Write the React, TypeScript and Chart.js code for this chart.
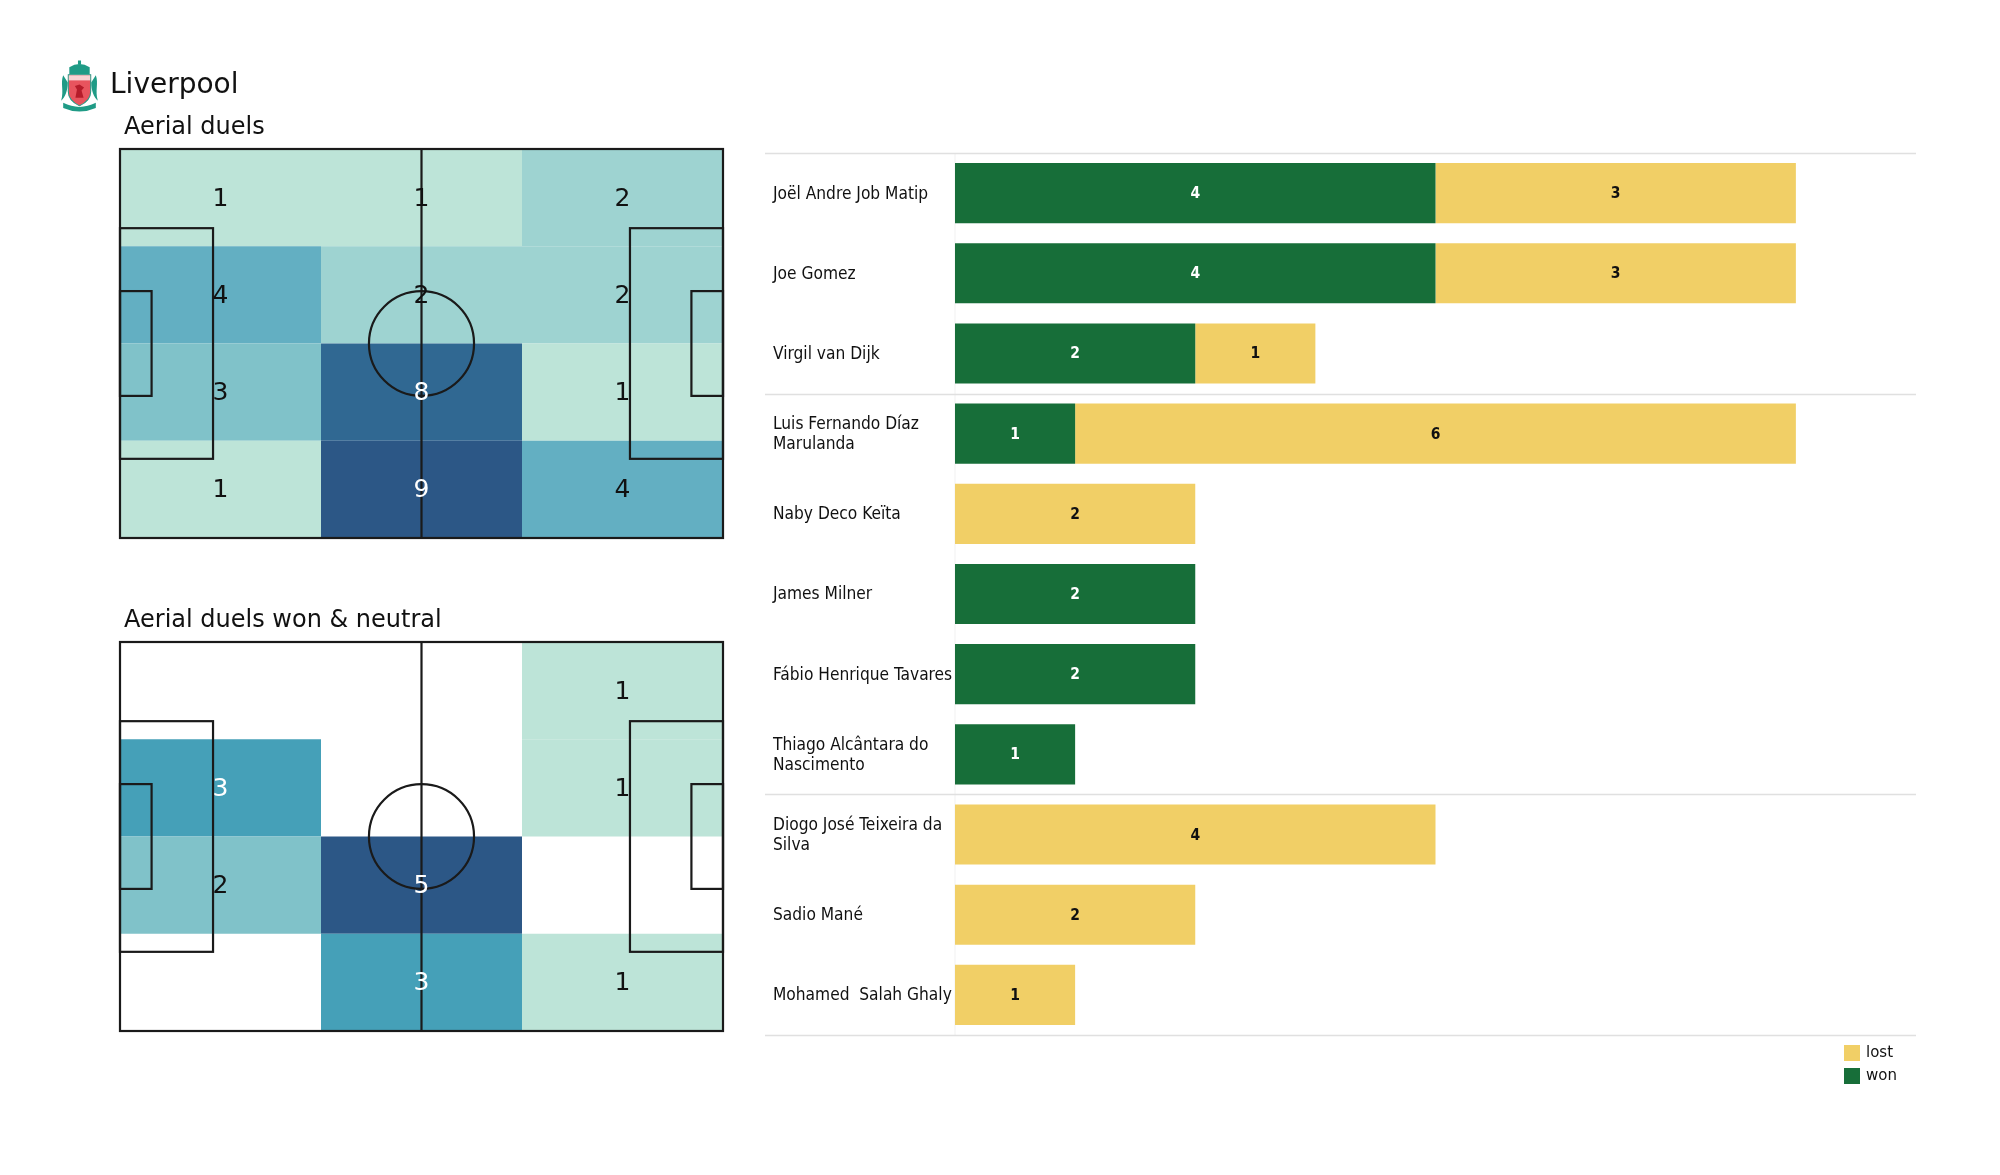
import React, { useEffect, useRef } from "react";
import { Chart, registerables } from "chart.js";

Chart.register(...registerables);

// ---------- DATA ----------
const teamName = "Liverpool";
const pitchLength = 105;
const pitchWidth = 68;

// heatmap zones: rows top -> bottom, columns left -> right
const zoneRowCount = 4;
const zoneColCount = 3;
const aerialDuels = [
  [1, 1, 2],
  [4, 2, 2],
  [3, 8, 1],
  [1, 9, 4],
];
const aerialWonNeutral = [
  [0, 0, 1],
  [3, 0, 1],
  [2, 5, 0],
  [0, 3, 1],
];

const players: (string | string[])[] = [
  "Joël Andre Job Matip",
  "Joe Gomez",
  "Virgil van Dijk",
  ["Luis Fernando Díaz", "Marulanda"],
  "Naby Deco Keïta",
  "James Milner",
  "Fábio Henrique Tavares",
  ["Thiago Alcântara do", "Nascimento"],
  ["Diogo José Teixeira da", "Silva"],
  "Sadio Mané",
  "Mohamed  Salah Ghaly",
];
const wonValues = [4, 4, 2, 1, 0, 2, 2, 1, 0, 0, 0];
const lostValues = [3, 3, 1, 6, 2, 0, 0, 0, 4, 2, 1];
const groupSizes = [3, 5, 3];
const xAxisMax = 8;

// ---------- STYLES ----------
const GREEN = "#176e39";
const YELLOW = "#f1cf66";
const cmapStops: [number, string][] = [
  [0, "#bde4d8"],
  [0.125, "#9ed3d1"],
  [0.25, "#80c2c9"],
  [0.375, "#63afc2"],
  [0.5, "#45a0b8"],
  [0.875, "#306892"],
  [1, "#2c5786"],
];

function hexToRgb(h: string) {
  const n = parseInt(h.slice(1), 16);
  return [(n >> 16) & 255, (n >> 8) & 255, n & 255];
}
function cmap(t: number) {
  t = Math.max(0, Math.min(1, t));
  for (let i = 1; i < cmapStops.length; i++) {
    const [t1, c1] = cmapStops[i];
    const [t0, c0] = cmapStops[i - 1];
    if (t <= t1) {
      const f = (t - t0) / (t1 - t0 || 1);
      const a = hexToRgb(c0);
      const b = hexToRgb(c1);
      const c = a.map((v, k) => Math.round(v + (b[k] - v) * f));
      return `rgb(${c[0]},${c[1]},${c[2]})`;
    }
  }
  return cmapStops[cmapStops.length - 1][1];
}

const SANS = '"DejaVu Sans", "Liberation Sans", sans-serif';
const COND = '"DejaVu Sans Condensed", "DejaVu Sans", sans-serif';

function makePitchPlugin(title: string, header?: string) {
  return {
    id: "pitchHeat",
    beforeDatasetsDraw(chart: any) {
      const { ctx, chartArea, scales } = chart;
      const xs = scales.x;
      const ys = scales.y;
      const px = (m: number) => xs.getPixelForValue(m);
      const py = (m: number) => ys.getPixelForValue(m);
      const pts = chart.data.datasets[0].data as { x: number; y: number; v: number }[];
      const nz = pts.map((p) => p.v).filter((v) => v > 0);
      const vmin = Math.min(...nz);
      const vmax = Math.max(...nz);
      const cw = pitchLength / zoneColCount;
      const rh = pitchWidth / zoneRowCount;
      ctx.save();
      // titles
      ctx.fillStyle = "#111";
      ctx.textAlign = "left";
      ctx.textBaseline = "alphabetic";
      if (header) {
        ctx.font = `28px ${SANS}`;
        ctx.fillText(header, chartArea.left - 10, chartArea.top - 56);
      }
      ctx.font = `24px ${SANS}`;
      ctx.fillText(title, chartArea.left + 4, chartArea.top - 15);
      // cells
      pts.forEach((p) => {
        if (p.v <= 0) return;
        const t = (p.v - vmin) / (vmax - vmin || 1);
        ctx.fillStyle = cmap(t);
        const x0 = px(p.x - cw / 2);
        const x1 = px(p.x + cw / 2);
        const y0 = py(p.y - rh / 2);
        const y1 = py(p.y + rh / 2);
        ctx.fillRect(x0, Math.min(y0, y1), x1 - x0, Math.abs(y1 - y0));
      });
      // pitch lines
      ctx.strokeStyle = "#1a1a1a";
      ctx.lineWidth = 2.2;
      const rect = (a: number, b: number, c: number, d: number) => {
        const X0 = px(a), X1 = px(c), Y0 = py(b), Y1 = py(d);
        ctx.strokeRect(X0, Math.min(Y0, Y1), X1 - X0, Math.abs(Y1 - Y0));
      };
      rect(0, 0, pitchLength, pitchWidth);
      ctx.beginPath();
      ctx.moveTo(px(pitchLength / 2), py(0));
      ctx.lineTo(px(pitchLength / 2), py(pitchWidth));
      ctx.stroke();
      const mid = pitchWidth / 2;
      rect(0, mid - 20.16, 16.2, mid + 20.16);
      rect(pitchLength - 16.2, mid - 20.16, pitchLength, mid + 20.16);
      rect(0, mid - 9.16, 5.5, mid + 9.16);
      rect(pitchLength - 5.5, mid - 9.16, pitchLength, mid + 9.16);
      ctx.beginPath();
      ctx.ellipse(
        px(pitchLength / 2),
        py(mid),
        Math.abs(px(9.15) - px(0)),
        Math.abs(py(9.15) - py(0)),
        0,
        0,
        Math.PI * 2
      );
      ctx.stroke();
      // numbers
      ctx.font = `25px ${SANS}`;
      ctx.textAlign = "center";
      ctx.textBaseline = "middle";
      pts.forEach((p) => {
        if (p.v <= 0) return;
        const t = (p.v - vmin) / (vmax - vmin || 1);
        ctx.fillStyle = t > 0.45 ? "#ffffff" : "#111111";
        ctx.fillText(String(p.v), px(p.x), py(p.y) + 1.5);
      });
      ctx.restore();
    },
  };
}

function PitchHeatmap(props: {
  values: number[][];
  title: string;
  header?: string;
  top: number;
  height: number;
  padTop: number;
  padBottom: number;
}) {
  const ref = useRef<HTMLCanvasElement>(null);
  useEffect(() => {
    const cw = pitchLength / zoneColCount;
    const rh = pitchWidth / zoneRowCount;
    const data: { x: number; y: number; v: number }[] = [];
    props.values.forEach((row, r) =>
      row.forEach((v, c) => data.push({ x: cw * (c + 0.5), y: rh * (r + 0.5), v }))
    );
    const chart = new Chart(ref.current!, {
      type: "scatter",
      data: { datasets: [{ data, pointRadius: 0, pointHoverRadius: 0 }] as any },
      options: {
        animation: false,
        responsive: false,
        events: [],
        layout: { padding: { left: 120, right: 17, top: props.padTop, bottom: props.padBottom } },
        scales: {
          x: { type: "linear", min: 0, max: pitchLength, display: false },
          y: { type: "linear", min: 0, max: pitchWidth, reverse: true, display: false },
        },
        plugins: { legend: { display: false }, tooltip: { enabled: false } },
      },
      plugins: [makePitchPlugin(props.title, props.header)],
    });
    return () => chart.destroy();
  }, []);
  return (
    <canvas
      ref={ref}
      width={740}
      height={props.height}
      style={{ position: "absolute", left: 0, top: props.top, width: 740, height: props.height }}
    />
  );
}

const barDecor = {
  id: "barDecor",
  beforeDatasetsDraw(chart: any) {
    const { ctx, chartArea, scales } = chart;
    const ys = scales.y;
    const n = players.length;
    const labelLeft = chartArea.left - 190;
    const boundaries: number[] = [chartArea.top];
    let acc = 0;
    groupSizes.forEach((g, gi) => {
      acc += g;
      if (gi < groupSizes.length - 1)
        boundaries.push((ys.getPixelForValue(acc - 1) + ys.getPixelForValue(acc)) / 2);
    });
    boundaries.push(chartArea.bottom);
    ctx.save();
    ctx.strokeStyle = "#f1f1f1";
    ctx.lineWidth = 1;
    ctx.beginPath();
    ctx.moveTo(chartArea.left, chartArea.top);
    ctx.lineTo(chartArea.left, chartArea.bottom);
    ctx.stroke();
    ctx.strokeStyle = "#e0e0e0";
    ctx.lineWidth = 1.5;
    boundaries.forEach((b) => {
      ctx.beginPath();
      ctx.moveTo(labelLeft, Math.round(b) + 0.5);
      ctx.lineTo(chartArea.right, Math.round(b) + 0.5);
      ctx.stroke();
    });
    // player labels
    ctx.fillStyle = "#111";
    ctx.font = `17.2px ${COND}`;
    ctx.textAlign = "left";
    ctx.textBaseline = "middle";
    for (let i = 0; i < n; i++) {
      const y = ys.getPixelForValue(i);
      const lab = players[i];
      const lines = Array.isArray(lab) ? lab : [lab];
      const lh = 19.5;
      lines.forEach((ln, k) => {
        ctx.fillText(ln, chartArea.left - 182, y + 1 + (k - (lines.length - 1) / 2) * lh);
      });
    }
    ctx.restore();
  },
  afterDatasetsDraw(chart: any) {
    const { ctx, chartArea } = chart;
    ctx.save();
    ctx.font = `bold 15.5px ${COND}`;
    ctx.textAlign = "center";
    ctx.textBaseline = "middle";
    chart.data.datasets.forEach((ds: any, di: number) => {
      const meta = chart.getDatasetMeta(di);
      meta.data.forEach((el: any, i: number) => {
        const v = ds.data[i];
        if (!v) return;
        ctx.fillStyle = ds.label === "won" ? "#ffffff" : "#111111";
        ctx.fillText(String(v), (el.x + el.base) / 2, el.y + 1);
      });
    });
    // legend
    const items = [
      { label: "lost", color: YELLOW },
      { label: "won", color: GREEN },
    ];
    ctx.font = `15px ${SANS}`;
    ctx.textAlign = "left";
    items.forEach((it, k) => {
      const cy = chartArea.bottom + 18 + k * 23;
      ctx.fillStyle = it.color;
      ctx.fillRect(chartArea.right - 72, cy - 8, 16, 16);
      ctx.fillStyle = "#111";
      ctx.fillText(it.label, chartArea.right - 50, cy);
    });
    ctx.restore();
  },
};

function PlayerBars() {
  const ref = useRef<HTMLCanvasElement>(null);
  useEffect(() => {
    const chart = new Chart(ref.current!, {
      type: "bar",
      data: {
        labels: players as any,
        datasets: [
          {
            label: "won",
            data: wonValues,
            backgroundColor: GREEN,
            barPercentage: 0.75,
            categoryPercentage: 1,
          },
          {
            label: "lost",
            data: lostValues,
            backgroundColor: YELLOW,
            barPercentage: 0.75,
            categoryPercentage: 1,
          },
        ],
      },
      options: {
        indexAxis: "y",
        animation: false,
        responsive: false,
        events: [],
        layout: { padding: { left: 195, right: 14, top: 13, bottom: 65 } },
        scales: {
          x: { stacked: true, min: 0, max: xAxisMax, display: false },
          y: { stacked: true, display: false },
        },
        plugins: { legend: { display: false }, tooltip: { enabled: false } },
      },
      plugins: [barDecor],
    });
    return () => chart.destroy();
  }, []);
  return (
    <canvas
      ref={ref}
      width={1170}
      height={960}
      style={{ position: "absolute", left: 760, top: 140, width: 1170, height: 960 }}
    />
  );
}

function Logo() {
  const teal = "#1f9b86";
  return (
    <svg
      style={{ position: "absolute", left: 60, top: 60, width: 39, height: 53 }}
      viewBox="0 0 38 52"
    >
      <path d="M3 15 C0 23 4 30 1 40 C5 36 7.5 30 7.5 22 Z" fill={teal} />
      <path d="M35 15 C38 23 34 30 37 40 C33 36 30.5 30 30.5 22 Z" fill={teal} />
      <path d="M9 14 L9 7 Q19 1 29 7 L29 14 Z" fill={teal} />
      <rect x="17.5" y="0.5" width="3" height="4" fill={teal} />
      <path d="M8 14.5 H30 V31 Q30 40 19 45 Q8 40 8 31 Z" fill="#e8545e" stroke={teal} strokeWidth="1" />
      <rect x="8.5" y="15" width="21" height="5" fill="#f7d3d3" />
      <path d="M15 37 L16.5 29 L14.5 25.5 L19 24 L23.5 27 L21 30 L23 37 Z" fill="#b51c2a" />
      <path d="M3 42 Q19 50 35 42 L35 47 Q19 54 3 47 Z" fill={teal} />
    </svg>
  );
}

export default function App() {
  return (
    <div
      style={{
        position: "absolute",
        left: 0,
        top: 0,
        width: 2000,
        height: 1175,
        background: "#ffffff",
        overflow: "hidden",
      }}
    >
      <PitchHeatmap
        values={aerialDuels}
        title="Aerial duels"
        header={teamName}
        top={0}
        height={560}
        padTop={149}
        padBottom={22}
      />
      <PitchHeatmap
        values={aerialWonNeutral}
        title="Aerial duels won & neutral"
        top={560}
        height={500}
        padTop={82}
        padBottom={29}
      />
      <Logo />
      <PlayerBars />
    </div>
  );
}
